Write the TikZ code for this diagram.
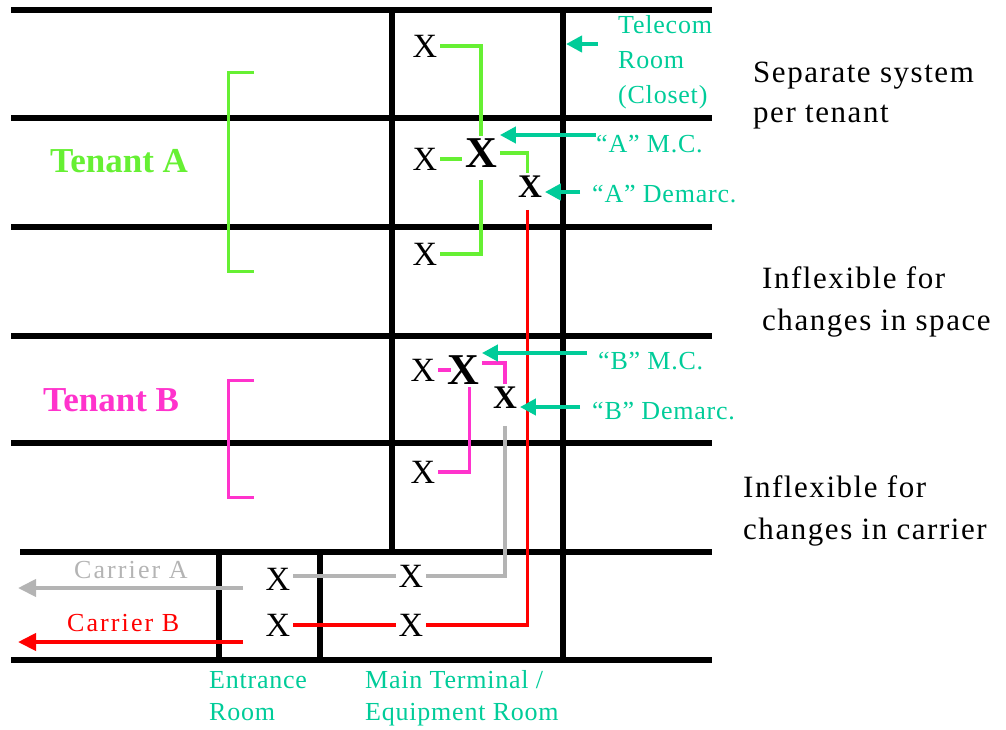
\documentclass[tikz,border=0pt]{standalone}
\usepackage{fontspec}
\setmainfont{Liberation Serif}
\usetikzlibrary{arrows.meta}
\definecolor{tgreen}{RGB}{102,240,51}
\definecolor{tmag}{RGB}{255,51,204}
\definecolor{tteal}{RGB}{0,204,153}
\definecolor{lgray}{RGB}{180,180,180}
\tikzset{
  wall/.style={line width=6pt, black},
  xs/.style={font=\fontsize{34}{34}\selectfont, inner sep=0pt, outer sep=3pt},
  xbig/.style={font=\fontsize{44}{44}\selectfont\bfseries, inner sep=0pt, outer sep=3pt},
  xdem/.style={font=\fontsize{33}{33}\selectfont\bfseries, inner sep=0pt, outer sep=3pt},
  lbl/.style={font=\fontsize{26}{26}\selectfont\addfontfeature{LetterSpace=3}, text=tteal, anchor=base west, inner sep=0pt},
  note/.style={font=\fontsize{31}{31}\selectfont\addfontfeature{LetterSpace=5}, anchor=base west, inner sep=0pt},
  tenant/.style={font=\fontsize{35}{35}\selectfont\bfseries, anchor=base west, inner sep=0pt},
  carrier/.style={font=\fontsize{26}{26}\selectfont\addfontfeature{LetterSpace=8}, anchor=base west, inner sep=0pt},
  tarrow/.style={draw=tteal, line width=4pt, -{Triangle[length=16pt,width=16pt]}},
  glink/.style={draw=tgreen, line width=3.5pt},
  mlink/.style={draw=tmag, line width=3.5pt},
  graylink/.style={draw=lgray, line width=3.5pt},
  redlink/.style={draw=red, line width=3.5pt},
  bracketg/.style={draw=tgreen, line width=3pt},
  bracketm/.style={draw=tmag, line width=3pt},
  carrow/.style={line width=4pt, -{Triangle[length=18pt,width=17pt]}}
}
\begin{document}
\begin{tikzpicture}[x=1pt,y=-1pt]
\useasboundingbox (0,0) rectangle (1006,729);
% walls
\draw[wall] (11,10) -- (712,10);
\draw[wall] (11,118) -- (712,118);
\draw[wall] (11,227) -- (712,227);
\draw[wall] (11,336) -- (712,336);
\draw[wall] (11,443) -- (712,443);
\draw[wall] (20,552) -- (712,552);
\draw[wall] (11,660) -- (712,660);
\draw[wall] (392,10) -- (392,552);
\draw[wall] (563,10) -- (563,660);
\draw[wall] (219,552) -- (219,660);
\draw[wall] (320,552) -- (320,660);

% X marks
\node[xs] (xa1) at (425,46) {X};
\node[xs] (xa2) at (425,159) {X};
\node[xbig] (XA) at (481,153) {X};
\node[xdem] (xaD) at (530,187) {X};
\node[xs] (xa3) at (425,254) {X};
\node[xs] (xb1) at (423,370) {X};
\node[xbig] (XB) at (463,370) {X};
\node[xdem] (xbD) at (505,398) {X};
\node[xs] (xb2) at (423,472) {X};
\node[xs] (e1) at (278,579) {X};
\node[xs] (e2) at (278,625) {X};
\node[xs] (m1) at (411,576) {X};
\node[xs] (m2) at (411,625) {X};

% brackets
\draw[bracketg] (254,72) -- (228,72) -- (228,271) -- (254,271);
\draw[bracketm] (254,380) -- (228,380) -- (228,497) -- (254,497);

% tenant A links
\draw[glink] (xa1.east) -| (XA.north);
\draw[glink] (xa2.east) -- (xa2.east -| XA.west);
\draw[glink] (XA.east) -| (xaD.100);
\draw[glink, shorten <=10pt] (XA.south) |- (xa3.east);
% tenant B links
\draw[mlink, shorten >=-7pt] (xb1.east) -- (xb1.east -| XB.west);
\draw[mlink] (XB.20) -| (xbD.north);
\draw[mlink] (XB.-70) |- (xb2.east);
% carrier links
\draw[graylink, shorten <=14pt] (xbD.south) |- (m1.east);
\draw[graylink] (m1.west) -- (m1.west -| e1.east);
\draw[redlink, shorten <=9pt] (xaD.-100) |- (m2.east);
\draw[redlink] (m2.west) -- (m2.west -| e2.east);

% carrier arrows
\coordinate (cA0) at (243,588);
\coordinate (cA1) at (18,588);
\coordinate (cB0) at (243,642);
\coordinate (cB1) at (18,642);
\draw[carrow, draw=lgray, fill=lgray] (cA0) -- (cA1);
\draw[carrow, draw=red, fill=red] (cB0) -- (cB1);
\node[carrier, text=lgray] (carA) at (74,578) {Carrier A};
\node[carrier, text=red] (carB) at (67,631) {Carrier B};

% tenant labels
\node[tenant, text=tgreen] (tenA) at (50,172) {Tenant A};
\node[tenant, text=tmag] (tenB) at (43,411) {Tenant B};

% teal labels
\node[lbl] (tel1) at (618,33) {Telecom};
\node[lbl] (tel2) at (618,68) {Room};
\node[lbl] (tel3) at (618,103) {(Closet)};
\node[lbl] (amc) at (596,152) {“A” M.C.};
\node[lbl] (adem) at (592,202) {“A” Demarc.};
\node[lbl] (bmc) at (598,369) {“B” M.C.};
\node[lbl] (bdem) at (592,419) {“B” Demarc.};
\node[lbl] (ent1) at (209,688) {Entrance};
\node[lbl] (ent2) at (209,720) {Room};
\node[lbl] (mt1) at (365,688) {Main Terminal /};
\node[lbl] (mt2) at (365,720) {Equipment Room};

% teal arrows
\coordinate (telS) at (598,44);
\coordinate (telT) at (566,44);
\draw[tarrow] (telS) -- (telT);
\draw[tarrow] (594,135 -| amc.west) -- (XA.east |- 0,135);
\draw[tarrow] (580,192) -- (xaD.east |- 0,192);
\draw[tarrow] (587,353) -- (XB.east |- 0,353);
\draw[tarrow] (580,407) -- (xbD.east |- 0,407);

% notes
\node[note] (n1a) at (753,82) {Separate system};
\node[note] (n1b) at (753,122) {per tenant};
\node[note] (n2a) at (762,288) {Inflexible for};
\node[note] (n2b) at (762,330) {changes in space};
\node[note] (n3a) at (743,497) {Inflexible for};
\node[note] (n3b) at (743,539) {changes in carrier};
\end{tikzpicture}
\end{document}
